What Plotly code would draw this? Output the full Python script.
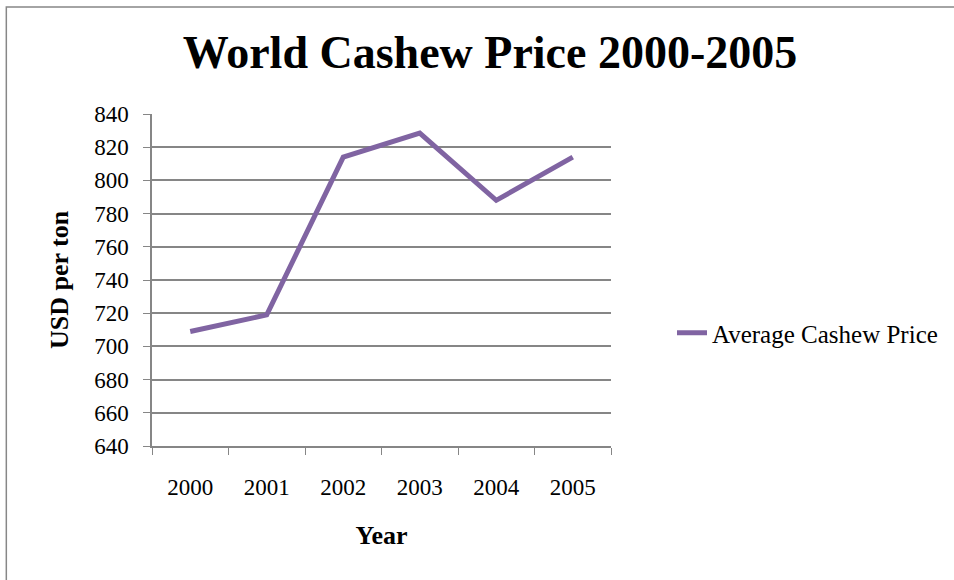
import plotly.graph_objects as go

years = ["2000", "2001", "2002", "2003", "2004", "2005"]
avg_price = [709, 719, 814, 828.5, 788, 814]
series_name = "Average Cashew Price"
title_text = "World Cashew Price 2000-2005"
x_title = "Year"
y_title = "USD per ton"

W, H = 954, 580
L, R, T, B = 152, 612, 114, 446
FONT = "Liberation Serif"
GRID = "#868686"

fig = go.Figure()
fig.add_trace(go.Scatter(
    x=years, y=avg_price, mode="lines", name=series_name,
    line=dict(color="#8064A2", width=5),
    showlegend=True,
))

def px_to_paper_x(px):
    return (px - L) / (R - L)

def px_to_paper_y(py):
    return (B - py) / (B - T)

fig.update_layout(
    width=W, height=H,
    margin=dict(l=L, r=W - R, t=T, b=H - B, pad=0),
    paper_bgcolor="white", plot_bgcolor="white",
    font=dict(family=FONT, size=23, color="black"),
    title=dict(text="<b>" + title_text + "</b>", x=490 / W, xanchor="center",
               y=1 - 52 / H, yanchor="middle",
               font=dict(family=FONT, size=46, color="black")),
    showlegend=True,
    legend=dict(x=px_to_paper_x(672), xanchor="left", y=px_to_paper_y(333), yanchor="middle",
                font=dict(family=FONT, size=25, color="black"),
                bgcolor="rgba(0,0,0,0)", itemwidth=30),
    xaxis=dict(
        type="category", tickson="boundaries", ticks="outside", ticklen=7,
        range=[-0.5, len(years) - 0.5],
        tickcolor=GRID, showline=True, linecolor=GRID, linewidth=1.5,
        showgrid=False, zeroline=False, ticklabelstandoff=20,
        tickfont=dict(family=FONT, size=23),
        title=dict(text="<b>" + x_title + "</b>", standoff=26,
                   font=dict(family=FONT, size=26)),
        fixedrange=True,
    ),
    yaxis=dict(
        range=[640, 840], dtick=20, tick0=640, ticks="outside", ticklen=7,
        tickcolor=GRID, showline=True, linecolor=GRID, linewidth=1.5,
        showgrid=True, gridcolor=GRID, gridwidth=1.5, zeroline=False,
        ticklabelstandoff=10, tickfont=dict(family=FONT, size=23),
        title=dict(text="<b>" + y_title + "</b>", standoff=18,
                   font=dict(family=FONT, size=26)),
        fixedrange=True,
    ),
    shapes=[dict(type="rect", xref="paper", yref="paper",
                 x0=px_to_paper_x(6), x1=px_to_paper_x(980),
                 y0=px_to_paper_y(600), y1=px_to_paper_y(7),
                 line=dict(color="#878787", width=1.5), fillcolor="rgba(0,0,0,0)",
                 layer="below")],
)

fig.write_html("out.html", config={"displayModeBar": False})
